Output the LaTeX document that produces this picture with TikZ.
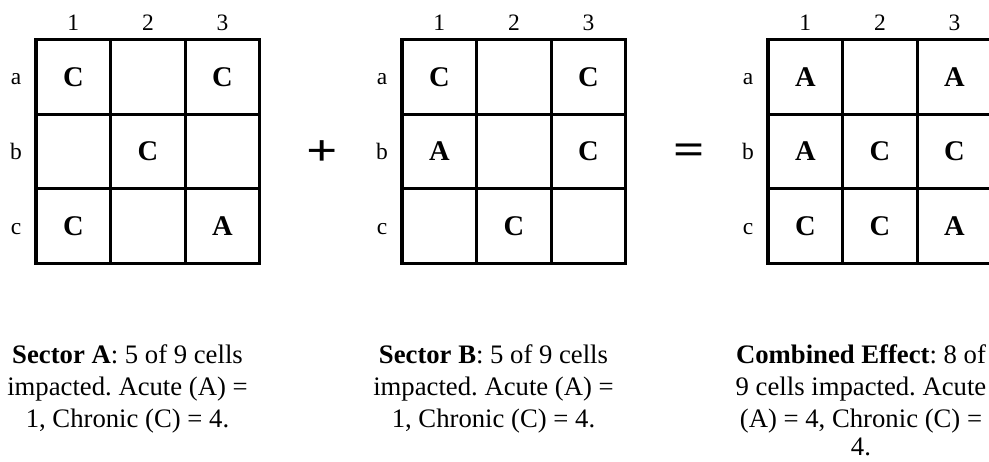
\documentclass[tikz,border=0pt]{standalone}
\usepackage{fontspec}
\setmainfont{Liberation Serif}
\frenchspacing
\begin{document}
\begin{tikzpicture}[x=1pt,y=-1pt,
  gridline/.style={line width=3.2pt, draw=black},
  lab/.style={anchor=base, inner sep=0pt, font=\fontsize{23.5}{28}\selectfont},
  cellletter/.style={anchor=base, inner sep=0pt, font=\fontsize{28.5}{34}\selectfont\bfseries},
  caption/.style={anchor=base, inner sep=0pt, font=\fontsize{26.7}{32}\selectfont},
  opsign/.style={anchor=base, inner sep=0pt, xscale=1.25, font=\fontsize{44}{50}\selectfont\bfseries}]
\useasboundingbox (0,0) rectangle (989,461);
\clip (0,0) rectangle (989,461);
\fill[white] (0,0) rectangle (989,461);
\def\cs{74.6}
\def\yo{39.5}
% grids
\foreach \g/\xo in {A/36, B/402, C/768} {
  \foreach \i in {1,2} {
    \draw[gridline] (\xo+\i*\cs, \yo) -- (\xo+\i*\cs, \yo+3*\cs);
    \draw[gridline] (\xo, \yo+\i*\cs) -- (\xo+3*\cs, \yo+\i*\cs);
  }
  \draw[gridline] (\xo, \yo) rectangle (\xo+3*\cs, \yo+3*\cs);
  \foreach \c in {1,2,3}
    \node[lab] (\g-col\c) at (\xo+\c*\cs-0.5*\cs, 30.7) {\c};
  \foreach \r/\lab in {1/a,2/b,3/c}
    \node[lab] (\g-row\lab) at (\xo-20, \yo+\r*\cs-0.5*\cs+8) {\lab};
}
% cell contents
\foreach \g/\xo/\r/\c/\t in {
  A/36/1/1/C, A/36/1/3/C, A/36/2/2/C, A/36/3/1/C, A/36/3/3/A,
  B/402/1/1/C, B/402/1/3/C, B/402/2/1/A, B/402/2/3/C, B/402/3/2/C,
  C/768/1/1/A, C/768/1/3/A, C/768/2/1/A, C/768/2/2/C, C/768/2/3/C,
  C/768/3/1/C, C/768/3/2/C, C/768/3/3/A}
  \node[cellletter] (\g-cell\r\c) at (\xo+\c*\cs-0.5*\cs, \yo+\r*\cs-0.5*\cs+9.5) {\t};
% operators
\node[opsign] (plus) at (322,165) {+};
\node[opsign] (equals) at (689,164.5) {=};
% captions
\node[caption] (capA1) at (127.5,363) {\textbf{Sector A}: 5 of 9 cells};
\node[caption] (capA2) at (127.5,395) {impacted. Acute (A) =};
\node[caption] (capA3) at (127.5,427) {1, Chronic (C) = 4.};
\node[caption] (capB1) at (493.5,363) {\textbf{Sector B}: 5 of 9 cells};
\node[caption] (capB2) at (493.5,395) {impacted. Acute (A) =};
\node[caption] (capB3) at (493.5,427) {1, Chronic (C) = 4.};
\node[caption] (capC1) at (861,363) {\textbf{Combined Effect}: 8 of};
\node[caption] (capC2) at (861,395) {9 cells impacted. Acute};
\node[caption] (capC3) at (861,427) {(A) = 4, Chronic (C) =};
\node[caption] (capC4) at (861,455) {4.};
\end{tikzpicture}
\end{document}
